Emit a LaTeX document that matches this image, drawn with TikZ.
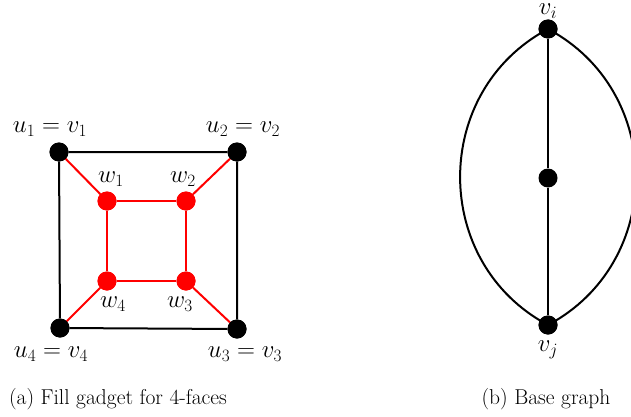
\documentclass[tikz,border=0pt]{standalone}
\usepackage{fontspec}
\begin{document}
\begin{tikzpicture}[x=1pt,y=1pt,
  bv/.style={circle,fill=black,inner sep=0pt,minimum size=19pt},
  rv/.style={circle,fill=red,inner sep=0pt,minimum size=19pt},
  captxt/.style={inner sep=0pt,font=\fontsize{21.5}{24}\selectfont},
  lab/.style={inner sep=0pt,font=\fontsize{25}{28}\selectfont},
  be/.style={line width=2pt,black},
  re/.style={line width=2pt,red}]
\useasboundingbox (0,0) rectangle (631,416);
\clip (0,0) rectangle (631,416);
% gadget
\node[bv] (u1) at (59,264) {};
\node[bv] (u2) at (237,264) {};
\node[bv] (u3) at (237,87) {};
\node[bv] (u4) at (60,88) {};
\node[rv] (w1) at (107,215) {};
\node[rv] (w2) at (186,215) {};
\node[rv] (w3) at (186,135) {};
\node[rv] (w4) at (107,135) {};
\draw[be] (u1) -- (u2) -- (u3) -- (u4) -- (u1);
\draw[re] (w1) -- (w2) -- (w3) -- (w4) -- (w1);
\draw[re] (u1) -- (w1);
\draw[re] (u2) -- (w2);
\draw[re] (u3) -- (w3);
\draw[re] (u4) -- (w4);
\node[bv] at (u1) {};
\node[bv] at (u2) {};
\node[bv] at (u3) {};
\node[bv] at (u4) {};
\node[rv] at (w1) {};
\node[rv] at (w2) {};
\node[rv] at (w3) {};
\node[rv] at (w4) {};
\node[lab] (lu1) at (50,287) {$u_1=v_1$};
\node[lab] (lu2) at (243,287) {$u_2=v_2$};
\node[lab] (lu4) at (51,62) {$u_4=v_4$};
\node[lab] (lu3) at (245,62) {$u_3=v_3$};
\node[lab] (lw1) at (111,237) {$w_1$};
\node[lab] (lw2) at (183,237) {$w_2$};
\node[lab] (lw4) at (113,112) {$w_4$};
\node[lab] (lw3) at (180,112) {$w_3$};
% base graph
\node[bv] (vi) at (548,387) {};
\node[bv] (vm) at (548,238) {};
\node[bv] (vj) at (548,91) {};
\draw[be] (vi) -- (vm) -- (vj);
\draw[be] (vi.center) to[bend right=62,looseness=1.15] (vj.center);
\draw[be] (vi.center) to[bend left=62,looseness=1.15] (vj.center);
\node[bv] at (vi) {};
\node[bv] at (vj) {};
\node[lab,anchor=base,font=\fontsize{23}{26}\selectfont] (lvi) at (548,401) {$v_i$};
\node[lab,font=\fontsize{23}{26}\selectfont] (lvj) at (548,66) {$v_j$};
% captions
\node[captxt] (ca) at (118,17) {(a) Fill gadget for 4-faces};
\node[captxt] (cb) at (546,17) {(b) Base graph};
\end{tikzpicture}
\end{document}
